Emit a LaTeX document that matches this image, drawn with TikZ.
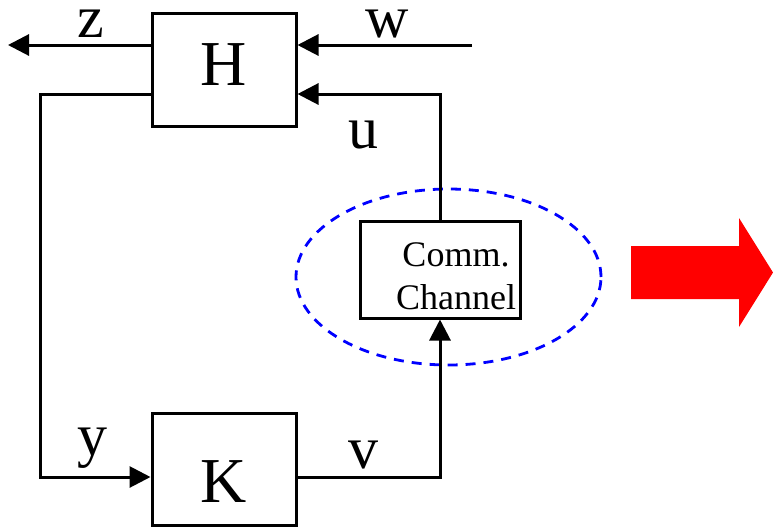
\documentclass[tikz,border=0pt]{standalone}
\usepackage{fontspec}
\setmainfont{Liberation Serif}
\usetikzlibrary{arrows.meta}
\tikzset{
  blockbox/.style={draw=black, line width=3pt, fill=white, inner sep=0pt},
  bigtext/.style={font=\fontsize{64}{70}\selectfont},
  sigtext/.style={font=\fontsize{60}{70}\selectfont, anchor=base, inner sep=0pt},
  conn/.style={line width=3pt, draw=black},
  arr/.style={conn, -{Triangle[length=21pt,width=21pt]}},
  commring/.style={draw=blue, line width=2.8pt, dash pattern=on 10pt off 8pt},
}
\begin{document}
\begin{tikzpicture}[x=1pt,y=-1pt]
\useasboundingbox (0,0) rectangle (773,531);
% ellipse
\draw[commring] (448.5,277) ellipse [x radius=152.5pt, y radius=88pt];
% blocks
\node[blockbox, bigtext, minimum width=144pt, minimum height=113pt, text height=43pt, text depth=12pt] (H) at (224,69.5) {H};
\node[blockbox, bigtext, minimum width=144pt, minimum height=112pt, text height=66pt, text depth=0pt] (K) at (224,469) {K};
\node[blockbox, minimum width=160pt, minimum height=97pt] (comm) at (440,269.5) {};
\node[anchor=base, align=center, inner sep=0pt, font=\fontsize{36}{43}\selectfont] (commtext) at (456,309) {Comm.\\Channel};
% coordinates
\coordinate (zend) at (8,45);
\coordinate (wstart) at (472,45);
\coordinate (ucorner) at (440,94);
\coordinate (ytop) at (40,94);
\coordinate (ybot) at (40,477);
% connectors
\draw[arr] (H.west |- zend) -- (zend);
\draw[arr] (wstart) -- (H.east |- wstart);
\draw[arr] (comm.north) -- (ucorner) -- (H.east |- ucorner);
\draw[arr] (H.west |- ytop) -- (ytop) -- (ybot) -- (K.west |- ybot);
\draw[arr] (K.east |- ybot) -- (comm.south |- ybot) -- (comm.south);
% labels
\node[sigtext] (zlab) at (91,37) {z};
\node[sigtext] (wlab) at (387,37) {w};
\node[sigtext] (ulab) at (363,148) {u};
\node[sigtext] (ylab) at (92,455) {y};
\node[sigtext] (vlab) at (363,468) {v};
% red arrow
\fill[red] (631,246) -- (739,246) -- (739,218) -- (773,272.5) -- (739,327) -- (739,299) -- (631,299) -- cycle;
\end{tikzpicture}
\end{document}
